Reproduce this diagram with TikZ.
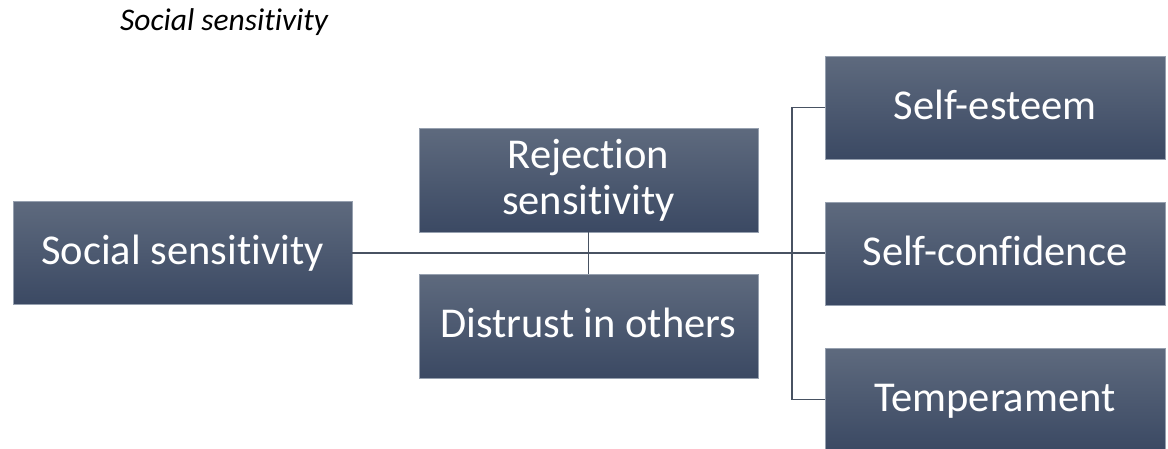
\documentclass[tikz,border=0pt]{standalone}
\usepackage{fontspec}
\setmainfont{Carlito}[Ligatures={NoCommon,NoRequired,NoContextual,NoDiscretionary}]
\newcommand{\nk}{\kern0pt }
\definecolor{boxtop}{RGB}{94,106,126}
\definecolor{boxbot}{RGB}{59,73,99}
\definecolor{boxedge}{RGB}{150,160,175}
\definecolor{linec}{RGB}{72,82,98}
\tikzset{
  box/.style={rectangle, inner sep=0pt, outer sep=0pt, top color=boxtop, bottom color=boxbot, draw=boxedge, line width=0.6pt, text=white, font=\fontsize{42.5}{46}\selectfont, align=center},
  oneline/.style={text height=30pt, text depth=7pt},
  conn/.style={draw=linec, line width=1.3pt}
}
\begin{document}
\begin{tikzpicture}[x=1pt,y=-1pt]
\useasboundingbox (0,0) rectangle (1168,448);
\node[anchor=west, inner sep=0pt, font=\fontsize{31.5}{36}\selectfont\itshape] (title) at (120,22) {Social sensit\nk ivit\nk y};
\node[box, oneline, minimum width=339pt, minimum height=103pt] (soc) at (182.5,252.5) {Social sensit\nk ivit\nk y};
\node[box, minimum width=339pt, minimum height=104pt] (rej) at (588.5,180) {Rejection\\sensit\nk ivit\nk y};
\node[box, oneline, minimum width=339pt, minimum height=104pt] (dis) at (588.5,326) {Distrust in others};
\node[box, oneline, minimum width=340pt, minimum height=103pt] (se) at (995,107.5) {Self-esteem};
\node[box, oneline, minimum width=340pt, minimum height=103pt] (sc) at (995,253.5) {Self-conf\nk idence};
\node[box, oneline, minimum width=340pt, minimum height=103pt] (tm) at (995,399.5) {Temperament};
\draw[conn] (soc.east |- 0,253) -- (sc.west |- 0,253);
\draw[conn] (rej.south) -- (dis.north);
\draw[conn] (se.west) -- ++(-33,0) |- (tm.west);
\end{tikzpicture}
\end{document}
